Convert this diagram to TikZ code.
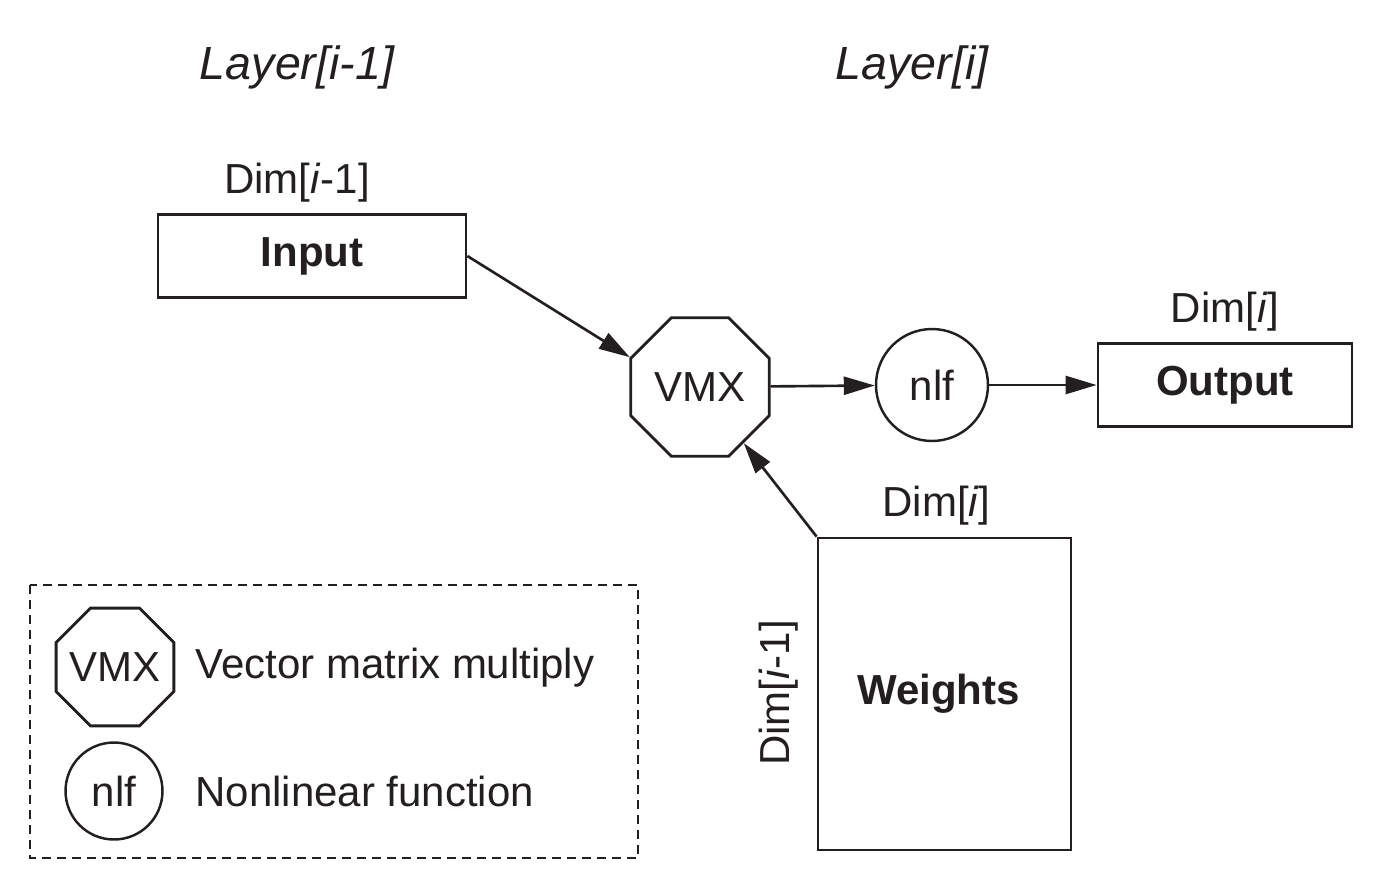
\documentclass[tikz,border=0pt]{standalone}
\usepackage{fontspec}
\setmainfont{Liberation Sans}
\usetikzlibrary{shapes.geometric,arrows.meta,positioning}
\definecolor{inkBlack}{RGB}{35,31,32}
\newcommand{\dimtxt}[1]{Dim[#1]}
\tikzset{
  basetext/.style={text=inkBlack,font=\fontsize{23.9}{28}\selectfont},
  boxnode/.style={draw=inkBlack,line width=1.6pt,basetext,font=\fontsize{23.9}{28}\selectfont\bfseries,inner sep=0pt},
  octnode/.style={regular polygon,regular polygon sides=8,draw=inkBlack,line width=1.6pt,basetext,inner sep=0pt},
  nlfnode/.style={circle,draw=inkBlack,line width=1.4pt,basetext,inner sep=0pt},
  layerlabel/.style={text=inkBlack,font=\fontsize{26.5}{30}\selectfont\itshape},
  dimlabel/.style={basetext,inner sep=0pt},
  flow/.style={draw=inkBlack,line width=1.5pt,-{Triangle[length=0.62cm,width=0.36cm]}}
}
\begin{document}
\begin{tikzpicture}[x=0.02cm,y=-0.02cm]
\useasboundingbox (0,0) rectangle (1374,883);
\node[layerlabel] (layerprev) at (297,67) {Layer[i-1]};
\node[layerlabel] (layercur) at (912,67) {Layer[i]};
\node[boxnode,minimum width=6.16cm,minimum height=1.66cm] (input) at (312,256) {Input};
\node[octnode,minimum size=3cm] (vmx) at (700,387) {VMX};
\node[nlfnode,minimum size=2.24cm] (nlf) at (932,385) {nlf};
\node[boxnode,minimum width=5.08cm,minimum height=1.66cm] (output) at (1225,385) {Output};
\node[boxnode,minimum width=5.06cm,minimum height=6.24cm] (weights) at (944.5,694) {\hspace*{-0.24cm}Weights};
\node[dimlabel,above=0.22cm of input,xshift=-0.3cm] (diminput) {\dimtxt{\textit{i}-1}};
\node[dimlabel,above=0.22cm of output] (dimoutput) {\dimtxt{\textit{i}}};
\node[dimlabel,above=0.22cm of weights,xshift=-0.16cm] (dimcols) {\dimtxt{\textit{i}}};
\node[dimlabel,rotate=90] (dimrows) at (779,693) {\dimtxt{\textit{i}-1}};
\draw[flow] (input.east) -- (vmx.157.5);
\draw[flow] (vmx) -- (nlf);
\draw[flow] (nlf) -- (output);
\draw[flow] (weights.north west) -- (vmx);
\draw[draw=inkBlack,line width=1.2pt,dash pattern=on 0.18cm off 0.12cm] (30,585) rectangle (638,858);
\node[octnode,minimum size=2.55cm] (legvmx) at (115,667) {\makebox[0pt]{VMX}};
\node[nlfnode,minimum size=1.94cm] (legnlf) at (114,791) {nlf};
\node[basetext,anchor=west,inner sep=0pt] (legvmxtxt) at (195,668) {Vector matrix multiply};
\node[basetext,anchor=west,inner sep=0pt] (legnlftxt) at (195,791) {Nonlinear function};
\end{tikzpicture}
\end{document}
